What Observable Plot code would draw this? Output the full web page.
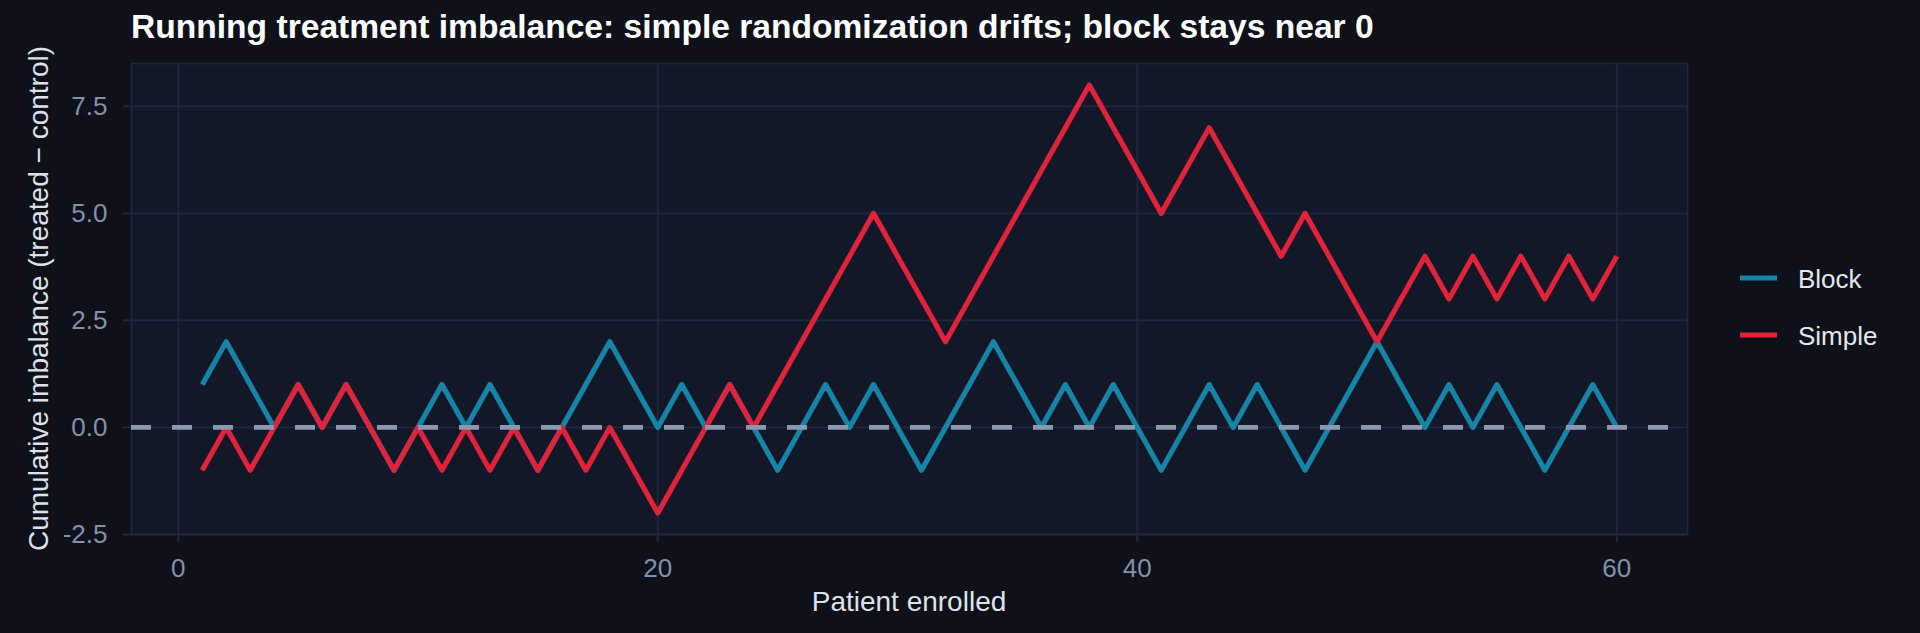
<!DOCTYPE html>
<html>
<head>
<meta charset="utf-8">
<script src="https://cdn.jsdelivr.net/npm/d3@7"></script>
<script src="https://cdn.jsdelivr.net/npm/@observablehq/plot@0.6"></script>
<style>
  html, body { margin: 0; padding: 0; background: #0e1119; }
  #chart { width: 1920px; height: 633px; overflow: hidden; }
</style>
</head>
<body>
<div id="chart"></div>
<script>
// ---- data ----
const patient = [1,2,3,4,5,6,7,8,9,10,11,12,13,14,15,16,17,18,19,20,
                 21,22,23,24,25,26,27,28,29,30,31,32,33,34,35,36,37,38,39,40,
                 41,42,43,44,45,46,47,48,49,50,51,52,53,54,55,56,57,58,59,60];
const blockImbalance = [1,2,1,0,1,0,1,0,-1,0, 1,0,1,0,-1,0,1,2,1,0,
                        1,0,1,0,-1,0,1,0,1,0, -1,0,1,2,1,0,1,0,1,0,
                        -1,0,1,0,1,0,-1,0,1,2, 1,0,1,0,1,0,-1,0,1,0];
const simpleImbalance = [-1,0,-1,0,1,0,1,0,-1,0, -1,0,-1,0,-1,0,-1,0,-1,-2,
                         -1,0,1,0,1,2,3,4,5,4, 3,2,3,4,5,6,7,8,7,6,
                         5,6,7,6,5,4,5,4,3,2, 3,4,3,4,3,4,3,4,3,4];
const designs = ["Block", "Simple"];
const designColors = ["#1783a7", "#e0233b"];
const xTicks = [0, 20, 40, 60];
const yTicks = [-2.5, 0, 2.5, 5, 7.5];

const titleText = "Running treatment imbalance: simple randomization drifts; block stays near 0";
const xTitle = "Patient enrolled";
const yTitle = "Cumulative imbalance (treated \u2212 control)";

// long table built from the arrays
const rows = [];
[blockImbalance, simpleImbalance].forEach((vals, i) => {
  patient.forEach((p, j) => rows.push({patient: p, imbalance: vals[j], design: designs[i]}));
});

const FONT = "'Liberation Sans', Arial, Helvetica, sans-serif";
const GRID = "#1c2840";

const plot = Plot.plot({
  width: 1920,
  height: 633,
  marginLeft: 131,
  marginRight: 233,
  marginTop: 63,
  marginBottom: 99,
  style: {background: "transparent", fontFamily: FONT, overflow: "visible"},
  x: {domain: [-1.95, 62.95]},
  y: {domain: [-2.5, 8.5]},
  color: {domain: designs, range: designColors},
  marks: [
    Plot.frame({fill: "#121827", stroke: "none"}),
    Plot.gridX(xTicks, {stroke: GRID, strokeOpacity: 1, strokeWidth: 1.8}),
    Plot.gridY(yTicks, {stroke: GRID, strokeOpacity: 1, strokeWidth: 1.8}),
    Plot.frame({stroke: GRID, strokeWidth: 1.6}),
    Plot.axisX(xTicks, {tickSize: 8, tickPadding: 16, fontSize: 26, stroke: GRID, strokeWidth: 2,
                        fill: "#8391a8", tickFormat: d => String(d), label: null}),
    Plot.axisY(yTicks, {tickSize: 8, tickPadding: 16, fontSize: 26, stroke: GRID, strokeWidth: 2,
                        fill: "#8391a8", tickFormat: d => d.toFixed(1), label: null}),
    Plot.line(rows, {x: "patient", y: "imbalance", stroke: "design", z: "design",
                     strokeWidth: 5.2, strokeLinecap: "butt", strokeLinejoin: "round"}),
    Plot.ruleY([0], {stroke: "#8b98b0", strokeWidth: 4.8, strokeDasharray: "20,21"})
  ]
});

document.getElementById("chart").appendChild(plot);

const svg = d3.select(plot);
// title
svg.append("text")
  .attr("x", 131).attr("y", 38)
  .attr("text-anchor", "start")
  .attr("font-family", FONT).attr("font-size", 33.6).attr("font-weight", "bold")
  .attr("fill", "#ffffff")
  .text(titleText);
// axis titles
svg.append("text")
  .attr("x", 909).attr("y", 611)
  .attr("text-anchor", "middle")
  .attr("font-family", FONT).attr("font-size", 28)
  .attr("fill", "#dde2ea")
  .text(xTitle);
svg.append("text")
  .attr("transform", "translate(48,298.5) rotate(-90)")
  .attr("text-anchor", "middle")
  .attr("font-family", FONT).attr("font-size", 28)
  .attr("fill", "#dde2ea")
  .text(yTitle);
// legend
const colorScale = plot.scale("color");
designs.forEach((d, i) => {
  const cy = 278 + i * 57;
  svg.append("line")
    .attr("x1", 1740).attr("x2", 1777).attr("y1", cy).attr("y2", cy)
    .attr("stroke", colorScale.apply(d)).attr("stroke-width", 5);
  svg.append("text")
    .attr("x", 1798).attr("y", cy + 10)
    .attr("text-anchor", "start")
    .attr("font-family", FONT).attr("font-size", 26)
    .attr("fill", "#e3e7ee")
    .text(d);
});
</script>
</body>
</html>
